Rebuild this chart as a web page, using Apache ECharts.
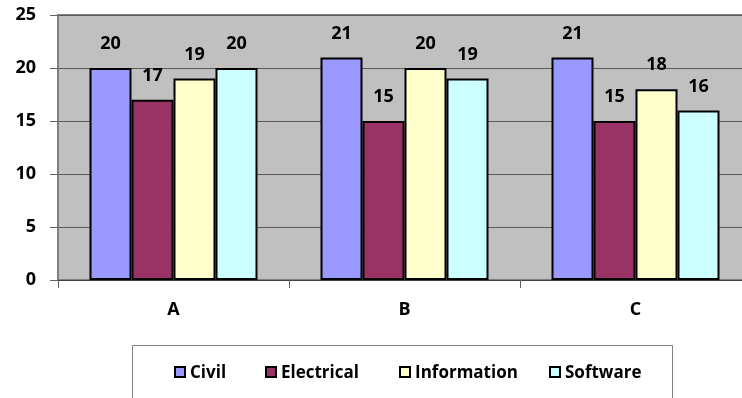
<!DOCTYPE html>
<html>
<head>
<meta charset="utf-8">
<style>
  html, body { margin: 0; padding: 0; background: #ffffff; }
  #chart { width: 742px; height: 398px; }
</style>
<script src="https://cdn.jsdelivr.net/npm/echarts@6/dist/echarts.min.js"></script>
</head>
<body>
<div id="chart"></div>
<script>
// Groups along the x axis
const categories = ['A', 'B', 'C'];

// Department values per group
const civil = [20, 21, 21];
const electrical = [17, 15, 15];
const information = [19, 20, 18];
const software = [20, 19, 16];

// Y axis ticks
const yTicks = [0, 5, 10, 15, 20, 25];

const seriesNames = ['Civil', 'Electrical', 'Information', 'Software'];
const seriesData = [civil, electrical, information, software];
const seriesColors = ['#9999FF', '#993366', '#FFFFCC', '#CCFFFF'];

const FONT = '"Open Sans", Lato, "Liberation Sans", sans-serif';

// Left edge of each legend swatch inside the legend box
const legendLefts = [174, 265, 399, 549];
const LEGEND_ROW_Y = 372;

const chart = echarts.init(document.getElementById('chart'), null, { renderer: 'canvas' });

// Framed legend swatches: black outline around the series colour
const swatches = seriesColors.map((c, i) => ({
  type: 'rect',
  z: 20,
  silent: true,
  shape: { x: legendLefts[i] + 1, y: LEGEND_ROW_Y - 5, width: 10, height: 10 },
  style: { fill: c, stroke: '#000000', lineWidth: 2 }
}));

chart.setOption({
  animation: false,
  backgroundColor: '#ffffff',
  grid: {
    left: 58,
    top: 15,
    width: 693,
    bottom: 118,
    outerBoundsMode: 'none',
    containLabel: false,
    show: true,
    backgroundColor: '#C0C0C0',
    borderColor: '#808080',
    borderWidth: 2
  },
  graphic: [{
    type: 'rect',
    z: 0,
    silent: true,
    shape: { x: 132.5, y: 345.5, width: 540, height: 80 },
    style: { fill: '#ffffff', stroke: '#808080', lineWidth: 1 }
  }].concat(swatches),
  // One legend per series so each entry sits at its own spot
  legend: seriesNames.map((name, i) => ({
    left: legendLefts[i] + 11,
    top: LEGEND_ROW_Y - 7,
    padding: 0,
    itemWidth: 0,
    itemHeight: 0,
    icon: 'none',
    z: 10,
    textStyle: { fontFamily: FONT, fontWeight: 'bold', fontSize: 17, color: '#000' },
    data: [name]
  })),
  xAxis: {
    type: 'category',
    data: categories,
    axisLine: { show: true, lineStyle: { color: '#404040', width: 1 } },
    axisTick: { show: true, alignWithLabel: false, length: 8, lineStyle: { color: '#606060' } },
    axisLabel: {
      margin: 21,
      fontFamily: FONT, fontWeight: 'bold', fontSize: 18, color: '#000'
    }
  },
  yAxis: {
    type: 'value',
    min: yTicks[0],
    max: yTicks[yTicks.length - 1],
    interval: yTicks[1] - yTicks[0],
    axisLine: { show: true, lineStyle: { color: '#808080', width: 1 } },
    axisTick: { show: true, inside: false, length: 8, lineStyle: { color: '#606060' } },
    splitLine: { show: true, lineStyle: { color: '#5a5a5a', width: 1 } },
    axisLabel: {
      margin: 22,
      fontFamily: FONT, fontWeight: 'bold', fontSize: 18, color: '#000'
    }
  },
  series: seriesNames.map((name, i) => ({
    name: name,
    type: 'bar',
    data: seriesData[i],
    barWidth: 42,
    barGap: '0%',
    itemStyle: { color: seriesColors[i], borderColor: '#000000', borderWidth: 2 },
    label: {
      show: true,
      position: 'top',
      distance: 15,
      fontFamily: FONT, fontWeight: 'bold', fontSize: 18, color: '#000'
    }
  }))
});
</script>
</body>
</html>
